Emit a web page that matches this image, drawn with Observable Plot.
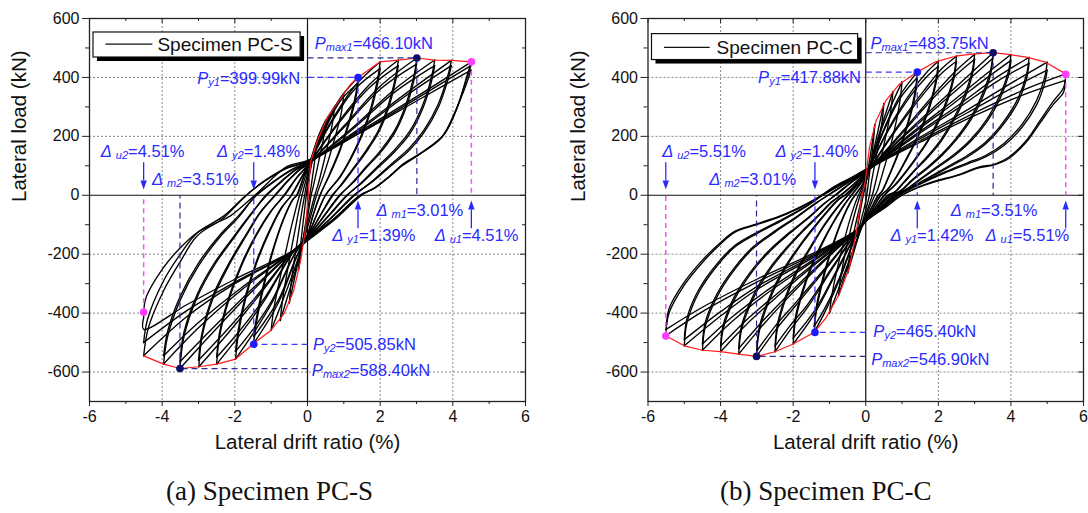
<!DOCTYPE html>
<html><head><meta charset="utf-8">
<script src="https://cdn.jsdelivr.net/npm/d3@7"></script>
<script src="https://cdn.jsdelivr.net/npm/@observablehq/plot@0.6"></script>
<style>
body{margin:0;background:#fff;}
#wrap{display:flex;width:1088px;height:513px;overflow:hidden;}
#wrap svg{flex:0 0 auto;}
</style></head><body><div id="wrap"></div>
<script>
// ---------- axis ticks ----------
const xTicks = [-6,-4,-2,0,2,4,6];
const xMinor = [-5,-3,-1,1,3,5];
const yTicks = [-600,-400,-200,0,200,400,600];
const yMinor = [-500,-300,-100,100,300,500];
const xGrid = [-4,-2,2,4];
const yGrid = [-600,-400,-200,200,400];

// ---------- Specimen PC-S hysteresis branches [drift %, load kN] ----------
const pcsLevel45 = [
 [[-4.51,-545],[-4.38,-450],[-3.96,-324],[-3.5,-225],[-3.04,-138],[-2.3,-76],[-1.75,-8],[-1.2,48],[-0.56,94],[0,116],[1.5,222],[3.0,335],[4.51,453]],
 [[4.51,453],[4.40,410],[4.12,297],[3.76,207],[3.2,150],[2.63,106],[2.34,72],[1.87,27],[1.49,0],[0.72,-86],[0,-154],[-0.4,-192],[-2.0,-300],[-3.3,-410],[-4.51,-545]],
 [[-4.51,-500],[-4.4,-420],[-3.96,-290],[-3.5,-200],[-3.04,-128],[-2.3,-70],[-1.72,-3],[-1.2,46],[-0.56,92],[0,113],[1.5,217],[3.0,328],[4.5,440]],
 [[4.5,440],[4.38,395],[4.08,287],[3.72,200],[3.15,145],[2.6,100],[2.3,68],[1.85,25],[1.46,0],[0.7,-84],[0,-150],[-0.4,-190],[-2.0,-295],[-3.3,-390],[-4.51,-500]],
 [[-4.51,-415],[-4.45,-350],[-3.96,-245],[-3.5,-178],[-3.04,-127],[-2.58,-98],[-2.12,-70],[-1.45,0],[-0.56,98],[0,118],[1.5,215],[3.0,320],[4.5,425]],
 [[4.5,425],[4.38,380],[4.05,280],[3.68,195],[3.1,140],[2.55,97],[2.25,64],[1.82,22],[1.44,0],[0.7,-82],[0,-148],[-0.4,-188],[-2.0,-285],[-3.3,-370],[-4.51,-455],[-4.51,-415]]
];
const pcsLevel40 = [
 [[-3.96,-573],[-3.85,-480],[-3.5,-355],[-3.0,-240],[-2.4,-140],[-1.9,-75],[-1.45,-5],[-0.9,50],[-0.4,90],[0,112],[1.3,215],[2.7,345],[3.96,458]],
 [[3.96,458],[3.86,405],[3.6,310],[3.2,220],[2.8,160],[2.3,105],[1.8,50],[1.3,0],[0.65,-78],[0,-150],[-0.4,-190],[-1.8,-320],[-3.0,-450],[-3.96,-573]],
 [[-3.96,-545],[-3.85,-462],[-3.5,-342],[-3.0,-230],[-2.4,-133],[-1.9,-70],[-1.42,-2],[-0.9,48],[-0.4,88],[0,110],[1.3,210],[2.7,337],[3.96,440]],
 [[3.96,440],[3.86,390],[3.6,298],[3.2,212],[2.8,153],[2.3,100],[1.8,47],[1.27,0],[0.65,-76],[0,-148],[-0.4,-189],[-1.8,-312],[-3.0,-432],[-3.96,-545]]
];
const pcsLevel35 = [
 [[-3.51,-588],[-3.4,-480],[-3.05,-350],[-2.55,-235],[-2.0,-140],[-1.55,-65],[-1.15,0],[-0.7,50],[-0.3,90],[0,108],[1.2,225],[2.4,360],[3.5,459]],
 [[3.5,459],[3.4,395],[3.15,300],[2.8,215],[2.4,155],[1.95,100],[1.5,45],[1.1,0],[0.55,-75],[0,-148],[-0.4,-190],[-1.6,-335],[-2.6,-465],[-3.51,-588]],
 [[-3.51,-565],[-3.4,-465],[-3.05,-340],[-2.55,-228],[-2.0,-135],[-1.55,-62],[-1.12,0],[-0.7,48],[-0.3,88],[0,106],[1.2,220],[2.4,350],[3.5,440]],
 [[3.5,440],[3.4,380],[3.15,288],[2.8,206],[2.4,148],[1.95,95],[1.5,42],[1.08,0],[0.55,-73],[0,-146],[-0.4,-189],[-1.6,-327],[-2.6,-450],[-3.51,-565]]
];
const pcsLevel30 = [
 [[-2.99,-582],[-2.9,-480],[-2.6,-350],[-2.15,-235],[-1.7,-140],[-1.3,-60],[-0.9,0],[-0.5,55],[-0.2,90],[0,105],[1.0,235],[2.0,370],[3.01,466]],
 [[3.01,466],[2.92,400],[2.7,305],[2.4,220],[2.0,150],[1.6,95],[1.25,45],[0.9,0],[0.45,-72],[0,-145],[-0.4,-192],[-1.4,-350],[-2.2,-470],[-2.99,-582]],
 [[-3.0,-560],[-2.9,-465],[-2.6,-340],[-2.15,-228],[-1.7,-135],[-1.3,-57],[-0.88,0],[-0.5,53],[-0.2,88],[0,103],[1.0,230],[2.0,360],[3.0,445]],
 [[3.0,445],[2.92,385],[2.7,293],[2.4,212],[2.0,144],[1.6,91],[1.25,42],[0.88,0],[0.45,-70],[0,-143],[-0.4,-190],[-1.4,-342],[-2.2,-455],[-3.0,-560]]
];
const pcsLevel25 = [
 [[-2.5,-573],[-2.42,-480],[-2.15,-350],[-1.8,-235],[-1.4,-135],[-1.0,-55],[-0.65,0],[-0.3,60],[0,102],[0.8,240],[1.7,375],[2.5,459]],
 [[2.5,459],[2.42,400],[2.22,305],[1.95,220],[1.6,150],[1.25,90],[0.95,40],[0.7,0],[0.35,-70],[0,-142],[-0.4,-195],[-1.2,-360],[-1.9,-480],[-2.5,-573]],
 [[-2.5,-550],[-2.42,-465],[-2.15,-340],[-1.8,-228],[-1.4,-130],[-1.0,-52],[-0.63,0],[-0.3,58],[0,100],[0.8,235],[1.7,365],[2.5,440]],
 [[2.5,440],[2.42,385],[2.22,293],[1.95,212],[1.6,144],[1.25,86],[0.95,37],[0.68,0],[0.35,-68],[0,-140],[-0.4,-193],[-1.2,-352],[-1.9,-465],[-2.5,-550]]
];
const pcsLevel20 = [
 [[-1.98,-556],[-1.9,-470],[-1.7,-350],[-1.4,-230],[-1.05,-125],[-0.72,-45],[-0.45,0],[-0.15,65],[0,100],[0.6,240],[1.3,370],[2.0,453]],
 [[2.0,453],[1.93,395],[1.75,300],[1.5,210],[1.2,130],[0.9,65],[0.5,0],[0.25,-68],[0,-140],[-0.35,-200],[-1.0,-370],[-1.5,-470],[-1.98,-556]],
 [[-1.98,-530],[-1.9,-452],[-1.7,-338],[-1.4,-222],[-1.05,-120],[-0.72,-42],[-0.44,0],[-0.15,63],[0,98],[0.6,235],[1.3,360],[2.0,430]],
 [[2.0,430],[1.93,378],[1.75,288],[1.5,202],[1.2,125],[0.9,62],[0.49,0],[0.25,-66],[0,-138],[-0.35,-198],[-1.0,-362],[-1.5,-455],[-1.98,-530]]
];
const pcsLevel15 = [
 [[-1.48,-503],[-1.4,-430],[-1.22,-320],[-0.95,-190],[-0.65,-80],[-0.4,-15],[-0.3,0],[-0.1,65],[0,95],[0.45,220],[0.9,330],[1.39,400]],
 [[1.39,400],[1.33,345],[1.15,255],[0.9,160],[0.6,70],[0.35,0],[0.15,-70],[0,-135],[-0.3,-210],[-0.8,-365],[-1.48,-503]],
 [[-1.48,-480],[-1.4,-412],[-1.22,-308],[-0.95,-183],[-0.65,-76],[-0.4,-13],[-0.29,0],[-0.1,63],[0,93],[0.45,215],[0.9,320],[1.39,380]],
 [[1.39,380],[1.33,330],[1.15,245],[0.9,153],[0.6,66],[0.34,0],[0.15,-68],[0,-133],[-0.3,-207],[-0.8,-355],[-1.48,-480]]
];
const pcsSmall = [
 [[-1.0,-458],[-0.92,-380],[-0.7,-250],[-0.45,-110],[-0.22,0],[0,85],[0.4,230],[1.0,345]],
 [[1.0,345],[0.93,280],[0.72,180],[0.45,70],[0.25,0],[0,-110],[-0.3,-230],[-1.0,-458]],
 [[-0.75,-425],[-0.68,-350],[-0.5,-220],[-0.3,-90],[-0.15,0],[0,70],[0.35,200],[0.75,302]],
 [[0.75,302],[0.68,240],[0.5,140],[0.3,40],[0.2,0],[0,-95],[-0.3,-240],[-0.75,-425]],
 [[-0.5,-365],[-0.44,-290],[-0.3,-170],[-0.15,-50],[-0.08,0],[0,55],[0.25,170],[0.5,255]],
 [[0.5,255],[0.45,200],[0.3,110],[0.15,25],[0.1,0],[0,-75],[-0.25,-220],[-0.5,-365]],
 [[-0.25,-255],[-0.2,-180],[-0.1,-70],[0,30],[0.12,110],[0.25,178]],
 [[0.25,178],[0.2,120],[0.1,30],[0,-50],[-0.12,-150],[-0.25,-255]]
];
const pcsEnvelope = [[-4.51,-545],[-3.96,-573],[-3.51,-588],[-2.99,-582],[-2.5,-573],[-1.98,-556],[-1.48,-503],[-1.02,-460],[-0.65,-403],[-0.38,-324],[-0.19,-223],[-0.05,-110],[0.02,0],[0.09,116],[0.27,184],[0.54,263],[0.86,320],[1.18,376],[1.39,400],[2.0,453],[2.5,459],[3.01,466],[3.5,459],[3.96,458],[4.51,453]];
// characteristic points: [drift, load, kind]
const pcsPoints = [[1.39,399.99,"y"],[3.01,466.10,"max"],[4.51,453,"u"],[-1.48,-505.85,"y"],[-3.51,-588.40,"max"],[-4.51,-397,"u"]];
const pcsTexts = ["P|y1|=399.99kN","P|max1|=466.10kN","Δ |y1|=1.39%","Δ |m1|=3.01%","Δ |u1|=4.51%","P|y2|=505.85kN","P|max2|=588.40kN","Δ |y2|=1.48%","Δ |m2|=3.51%","Δ |u2|=4.51%"];

// ---------- Specimen PC-C hysteresis branches ----------
const pccLevel55 = [
 [[-5.51,-477],[-5.42,-400],[-5.0,-305],[-4.5,-228],[-4.0,-165],[-3.6,-125],[-3.0,-100],[-2.2,-65],[-1.4,-15],[-0.9,27],[-0.4,60],[0,88],[1.5,185],[3.0,280],[4.5,365],[5.51,412]],
 [[5.51,412],[5.45,365],[5.18,321],[4.8,253],[4.42,185],[3.94,129],[3.56,106],[3.09,95],[2.61,72],[1.66,38],[1.0,0],[0.5,-45],[0,-88],[-0.25,-120],[-1.5,-205],[-3.0,-295],[-4.5,-395],[-5.51,-477]],
 [[-5.5,-455],[-5.42,-385],[-5.0,-295],[-4.5,-220],[-4.0,-160],[-3.6,-122],[-3.0,-97],[-2.2,-62],[-1.38,-12],[-0.9,25],[-0.4,58],[0,86],[1.5,180],[3.0,270],[4.5,348],[5.5,390]],
 [[5.5,390],[5.45,350],[5.18,310],[4.8,245],[4.42,180],[3.94,125],[3.56,104],[3.09,92],[2.61,70],[1.66,36],[0.98,0],[0.5,-44],[0,-86],[-0.25,-118],[-1.5,-200],[-3.0,-285],[-4.5,-380],[-5.5,-455]]
];
const pccLevel50 = [
 [[-5.0,-511],[-4.92,-430],[-4.6,-330],[-4.1,-240],[-3.6,-175],[-3.0,-130],[-2.3,-85],[-1.6,-35],[-1.2,0],[-0.5,50],[0,85],[1.4,190],[2.8,290],[4.0,380],[5.0,452]],
 [[5.0,452],[4.93,400],[4.7,320],[4.3,240],[3.8,175],[3.3,135],[2.8,110],[2.2,80],[1.5,40],[0.92,0],[0.45,-45],[0,-88],[-0.25,-120],[-1.5,-215],[-3.0,-320],[-4.0,-410],[-5.0,-511]],
 [[-5.0,-490],[-4.92,-415],[-4.6,-320],[-4.1,-233],[-3.6,-170],[-3.0,-126],[-2.3,-82],[-1.6,-33],[-1.18,0],[-0.5,48],[0,83],[1.4,185],[2.8,280],[4.0,362],[5.0,425]],
 [[5.0,425],[4.93,380],[4.7,305],[4.3,230],[3.8,168],[3.3,130],[2.8,106],[2.2,77],[1.5,38],[0.9,0],[0.45,-44],[0,-86],[-0.25,-118],[-1.5,-210],[-3.0,-310],[-4.0,-395],[-5.0,-490]]
];
const pccLevel45 = [
 [[-4.5,-526],[-4.42,-445],[-4.1,-345],[-3.6,-250],[-3.1,-180],[-2.5,-125],[-1.9,-75],[-1.4,-30],[-1.05,0],[-0.45,48],[0,83],[1.3,200],[2.6,310],[3.6,400],[4.5,468]],
 [[4.5,468],[4.43,410],[4.2,330],[3.8,250],[3.3,180],[2.8,135],[2.3,100],[1.8,65],[1.3,30],[0.85,0],[0.4,-45],[0,-88],[-0.25,-120],[-1.4,-220],[-2.8,-340],[-3.7,-430],[-4.5,-526]],
 [[-4.5,-505],[-4.42,-430],[-4.1,-335],[-3.6,-243],[-3.1,-175],[-2.5,-121],[-1.9,-72],[-1.4,-28],[-1.03,0],[-0.45,46],[0,81],[1.3,195],[2.6,300],[3.6,385],[4.5,448]],
 [[4.5,448],[4.43,395],[4.2,318],[3.8,242],[3.3,174],[2.8,130],[2.3,96],[1.8,62],[1.3,28],[0.83,0],[0.4,-44],[0,-86],[-0.25,-118],[-1.4,-215],[-2.8,-330],[-3.7,-415],[-4.5,-505]]
];
const pccLevel40 = [
 [[-4.0,-531],[-3.92,-450],[-3.6,-350],[-3.1,-255],[-2.6,-185],[-2.1,-130],[-1.6,-80],[-1.15,-30],[-0.85,0],[-0.4,45],[0,80],[1.2,205],[2.4,320],[3.3,410],[4.0,478]],
 [[4.0,478],[3.93,420],[3.7,340],[3.35,260],[2.9,190],[2.45,140],[2.0,100],[1.55,60],[1.1,20],[0.78,0],[0.38,-45],[0,-88],[-0.25,-120],[-1.3,-225],[-2.5,-350],[-3.3,-440],[-4.0,-531]],
 [[-4.0,-512],[-3.92,-437],[-3.6,-340],[-3.1,-248],[-2.6,-180],[-2.1,-126],[-1.6,-77],[-1.15,-28],[-0.83,0],[-0.4,43],[0,78],[1.2,200],[2.4,310],[3.3,395],[4.0,458]],
 [[4.0,458],[3.93,405],[3.7,328],[3.35,252],[2.9,184],[2.45,135],[2.0,96],[1.55,57],[1.1,18],[0.76,0],[0.38,-44],[0,-86],[-0.25,-118],[-1.3,-220],[-2.5,-340],[-3.3,-425],[-4.0,-512]]
];
const pccLevel35 = [
 [[-3.5,-539],[-3.42,-455],[-3.1,-350],[-2.65,-255],[-2.2,-185],[-1.75,-125],[-1.3,-70],[-0.95,-25],[-0.7,0],[-0.3,42],[0,78],[1.1,210],[2.2,335],[2.95,420],[3.51,484]],
 [[3.51,484],[3.44,425],[3.22,345],[2.9,265],[2.5,195],[2.1,140],[1.7,95],[1.3,55],[0.95,15],[0.7,0],[0.33,-45],[0,-88],[-0.25,-120],[-1.2,-230],[-2.2,-355],[-2.9,-450],[-3.5,-539]],
 [[-3.5,-520],[-3.42,-442],[-3.1,-340],[-2.65,-248],[-2.2,-180],[-1.75,-121],[-1.3,-67],[-0.95,-23],[-0.68,0],[-0.3,40],[0,76],[1.1,205],[2.2,325],[2.95,405],[3.5,465]],
 [[3.5,465],[3.44,410],[3.22,333],[2.9,257],[2.5,189],[2.1,135],[1.7,91],[1.3,52],[0.95,13],[0.68,0],[0.33,-44],[0,-86],[-0.25,-118],[-1.2,-225],[-2.2,-345],[-2.9,-435],[-3.5,-520]]
];
const pccLevel30 = [
 [[-3.01,-547],[-2.93,-460],[-2.65,-355],[-2.25,-255],[-1.85,-180],[-1.45,-115],[-1.05,-55],[-0.75,-15],[-0.58,0],[-0.25,40],[0,75],[1.0,215],[1.9,345],[2.55,430],[3.0,479]],
 [[3.0,479],[2.93,420],[2.72,340],[2.42,260],[2.08,190],[1.72,135],[1.38,90],[1.05,45],[0.8,12],[0.62,0],[0.3,-45],[0,-88],[-0.25,-120],[-1.0,-235],[-1.9,-370],[-2.5,-460],[-3.01,-547]],
 [[-3.0,-528],[-2.93,-446],[-2.65,-345],[-2.25,-248],[-1.85,-175],[-1.45,-111],[-1.05,-52],[-0.75,-13],[-0.57,0],[-0.25,38],[0,73],[1.0,210],[1.9,335],[2.55,415],[3.0,462]],
 [[3.0,462],[2.93,405],[2.72,328],[2.42,252],[2.08,184],[1.72,130],[1.38,87],[1.05,42],[0.8,10],[0.6,0],[0.3,-44],[0,-86],[-0.25,-118],[-1.0,-230],[-1.9,-360],[-2.5,-445],[-3.0,-528]]
];
const pccLevel25 = [
 [[-2.5,-531],[-2.43,-450],[-2.2,-350],[-1.85,-250],[-1.5,-175],[-1.15,-105],[-0.8,-45],[-0.5,0],[-0.2,40],[0,72],[0.8,220],[1.6,355],[2.1,430],[2.5,472]],
 [[2.5,472],[2.43,410],[2.25,330],[2.0,255],[1.7,185],[1.4,130],[1.1,80],[0.8,35],[0.52,0],[0.25,-45],[0,-88],[-0.25,-125],[-0.9,-245],[-1.6,-380],[-2.1,-460],[-2.5,-531]],
 [[-2.5,-512],[-2.43,-436],[-2.2,-340],[-1.85,-243],[-1.5,-170],[-1.15,-101],[-0.8,-43],[-0.49,0],[-0.2,38],[0,70],[0.8,215],[1.6,345],[2.1,415],[2.5,455]],
 [[2.5,455],[2.43,396],[2.25,320],[2.0,247],[1.7,180],[1.4,126],[1.1,77],[0.8,33],[0.5,0],[0.25,-44],[0,-86],[-0.25,-123],[-0.9,-240],[-1.6,-370],[-2.1,-445],[-2.5,-512]]
];
const pccLevel20 = [
 [[-2.0,-505],[-1.94,-430],[-1.75,-335],[-1.48,-240],[-1.2,-165],[-0.9,-95],[-0.6,-35],[-0.4,0],[-0.15,40],[0,70],[0.6,220],[1.25,350],[1.7,420],[2.0,455]],
 [[2.0,455],[1.94,395],[1.78,315],[1.58,245],[1.35,180],[1.1,120],[0.85,65],[0.6,20],[0.42,0],[0.2,-45],[0,-88],[-0.25,-130],[-0.8,-260],[-1.4,-400],[-2.0,-505]],
 [[-2.0,-485],[-1.94,-415],[-1.75,-325],[-1.48,-233],[-1.2,-160],[-0.9,-92],[-0.6,-33],[-0.39,0],[-0.15,38],[0,68],[0.6,215],[1.25,340],[1.7,405],[2.0,438]],
 [[2.0,438],[1.94,382],[1.78,305],[1.58,238],[1.35,175],[1.1,116],[0.85,62],[0.6,18],[0.41,0],[0.2,-44],[0,-86],[-0.25,-128],[-0.8,-255],[-1.4,-390],[-2.0,-485]]
];
const pccLevel15 = [
 [[-1.42,-465],[-1.37,-400],[-1.24,-320],[-1.05,-230],[-0.82,-140],[-0.6,-70],[-0.4,-20],[-0.3,0],[-0.1,35],[0,65],[0.45,210],[0.95,340],[1.42,418]],
 [[1.42,418],[1.37,360],[1.25,290],[1.08,215],[0.88,140],[0.65,70],[0.45,15],[0.35,0],[0.15,-45],[0,-85],[-0.25,-135],[-0.7,-280],[-1.1,-390],[-1.42,-465]],
 [[-1.42,-445],[-1.37,-385],[-1.24,-308],[-1.05,-222],[-0.82,-135],[-0.6,-67],[-0.4,-18],[-0.29,0],[-0.1,33],[0,63],[0.45,205],[0.95,330],[1.42,400]],
 [[1.42,400],[1.37,345],[1.25,278],[1.08,207],[0.88,135],[0.65,67],[0.45,13],[0.34,0],[0.15,-44],[0,-83],[-0.25,-132],[-0.7,-272],[-1.1,-377],[-1.42,-445]]
];
const pccSmall = [
 [[-1.0,-400],[-0.92,-330],[-0.75,-230],[-0.5,-110],[-0.3,-30],[-0.2,0],[0,55],[0.45,230],[1.0,385]],
 [[1.0,385],[0.93,310],[0.75,200],[0.5,90],[0.3,10],[0.25,0],[0,-75],[-0.3,-170],[-1.0,-400]],
 [[-0.75,-340],[-0.68,-270],[-0.5,-160],[-0.3,-60],[-0.15,0],[0,45],[0.35,200],[0.75,352]],
 [[0.75,352],[0.68,280],[0.5,170],[0.3,60],[0.18,0],[0,-65],[-0.3,-170],[-0.75,-340]],
 [[-0.5,-265],[-0.44,-200],[-0.3,-110],[-0.15,-30],[-0.1,0],[0,40],[0.25,170],[0.5,312]],
 [[0.5,312],[0.45,250],[0.3,140],[0.15,40],[0.1,0],[0,-50],[-0.25,-160],[-0.5,-265]],
 [[-0.25,-140],[-0.2,-90],[-0.1,-20],[0,40],[0.12,130],[0.25,240]],
 [[0.25,240],[0.2,170],[0.1,70],[0,-20],[-0.12,-80],[-0.25,-140]]
];
const pccEnvelope = [[-5.51,-477],[-5.0,-511],[-4.5,-526],[-4.0,-531],[-3.5,-539],[-3.01,-547],[-2.5,-531],[-2.0,-505],[-1.42,-465],[-1.09,-415],[-0.73,-336],[-0.45,-245],[-0.27,-132],[-0.13,-19],[-0.01,48],[0.1,161],[0.28,251],[0.55,320],[0.92,376],[1.42,418],[1.92,453],[2.47,472],[2.93,479],[3.51,484],[3.93,478],[4.43,469],[4.93,453],[5.51,412]];
const pccPoints = [[1.42,417.88,"y"],[3.51,483.75,"max"],[5.51,411,"u"],[-1.40,-465.40,"y"],[-3.01,-546.90,"max"],[-5.51,-478,"u"]];
const pccTexts = ["P|y1|=417.88kN","P|max1|=483.75kN","Δ |y1|=1.42%","Δ |m1|=3.51%","Δ |u1|=5.51%","P|y2|=465.40kN","P|max2|=546.90kN","Δ |y2|=1.40%","Δ |m2|=3.01%","Δ |u2|=5.51%"];

// ---------- drawing ----------
const BLUE = "#2a2aff", MAG = "#ff3cff";
const kindColor = {y: "#1c1cff", max: "#0d0d68", u: MAG};
const kindDash = {y: "#3a3aff", max: "#2a2a90", u: "#ff4cff"};
const headUp = {draw(ctx){ctx.moveTo(0,-9);ctx.lineTo(3.2,0);ctx.lineTo(-3.2,0);ctx.closePath();}};
const headDown = {draw(ctx){ctx.moveTo(0,9);ctx.lineTo(3.2,0);ctx.lineTo(-3.2,0);ctx.closePath();}};

function panel(cfg) {
  const rows = [];
  cfg.levels.forEach((lvl, li) => lvl.forEach((br, bi) => br.forEach(([x, y]) => rows.push({x, y, id: li + "-" + bi}))));
  const env = cfg.envelope.map(([x, y]) => ({x, y}));
  const pts = cfg.points.map(([x, y, k]) => ({x, y, k}));
  const dashes = [];
  pts.forEach(p => {
    dashes.push({x1: p.x, y1: p.y, x2: p.x, y2: 0, k: p.k});
    if (p.k !== "u") dashes.push({x1: 0, y1: p.y, x2: p.x, y2: p.y, k: p.k});
  });
  const T = cfg.texts, L = cfg.lab;
  const labStart = [1,2,3,4,5,6,7,8,9].map(i => ({x: L[i][0], y: L[i][1], t: T[i]}));
  const labEnd = [{x: L[0][0], y: L[0][1], t: T[0]}];
  const arrowsUp = cfg.arrowUpX.map(x => ({x}));
  const arrowsDown = cfg.arrowDownX.map(x => ({x}));
  const fw = 544 - cfg.ml - cfg.mr, fh = 513 - 18 - 112;
  const lg = cfg.legend;
  const svg = Plot.plot({
    width: 544, height: 513,
    marginLeft: cfg.ml, marginRight: cfg.mr, marginTop: 18, marginBottom: 112,
    x: {domain: [-6, 6]}, y: {domain: [-700, 600]},
    style: {fontFamily: "'Liberation Sans', Arial, sans-serif", fontSize: "16px", background: "white", color: "#111"},
    marks: [
      Plot.gridX(xGrid, {stroke: "#7a7a7a", strokeOpacity: 1, strokeDasharray: "2,2", strokeWidth: 0.9}),
      Plot.gridY(yGrid, {stroke: "#7a7a7a", strokeOpacity: 1, strokeDasharray: "2,2", strokeWidth: 0.9}),
      Plot.ruleX([0], {stroke: "#111", strokeWidth: 1.2}),
      Plot.ruleY([0], {stroke: "#111", strokeWidth: 1.2}),
      Plot.line(rows, {x: "x", y: "y", z: "id", curve: "catmull-rom", stroke: "#000", strokeWidth: 1.35}),
      Plot.line(env, {x: "x", y: "y", stroke: "#ff1a1a", strokeWidth: 1.2}),
      Plot.link(dashes.filter(d => d.k === "u"), {x1: "x1", y1: "y1", x2: "x2", y2: "y2", stroke: kindDash.u, strokeWidth: 1.5, strokeDasharray: "5,4"}),
      Plot.link(dashes.filter(d => d.k === "y"), {x1: "x1", y1: "y1", x2: "x2", y2: "y2", stroke: kindDash.y, strokeWidth: 1.3, strokeDasharray: "6,4"}),
      Plot.link(dashes.filter(d => d.k === "max"), {x1: "x1", y1: "y1", x2: "x2", y2: "y2", stroke: kindDash.max, strokeWidth: 1.2, strokeDasharray: "6,4"}),
      Plot.dot(pts, {x: "x", y: "y", r: 3.8, fill: d => kindColor[d.k], stroke: "none"}),
      Plot.link(arrowsUp, {x1: "x", x2: "x", y1: -112, y2: -48, stroke: BLUE, strokeWidth: 1.3}),
      Plot.dot(arrowsUp, {x: "x", y: -48, symbol: headUp, fill: BLUE, stroke: "none", r: 4}),
      Plot.link(arrowsDown, {x1: "x", x2: "x", y1: 112, y2: 50, stroke: BLUE, strokeWidth: 1.3}),
      Plot.dot(arrowsDown, {x: "x", y: 50, symbol: headDown, fill: BLUE, stroke: "none", r: 4}),
      Plot.text(labStart, {x: "x", y: "y", text: "t", textAnchor: "start", fill: BLUE, fontSize: 16.5}),
      Plot.text(labEnd, {x: "x", y: "y", text: "t", textAnchor: "end", fill: BLUE, fontSize: 16.5}),
      // legend
      Plot.rect([0], {x1: () => lg.x1, x2: () => lg.x2, y1: () => lg.y1, y2: () => lg.y2, fill: "#000", dx: 4, dy: 4}),
      Plot.rect([0], {x1: () => lg.x1, x2: () => lg.x2, y1: () => lg.y1, y2: () => lg.y2, fill: "white", stroke: "#111", strokeWidth: 1.2}),
      Plot.link([0], {x1: () => lg.lx1, x2: () => lg.lx2, y1: () => lg.ly, y2: () => lg.ly, stroke: "#111", strokeWidth: 1.2}),
      Plot.text([cfg.name], {x: () => lg.tx, y: () => lg.ty, text: d => d, textAnchor: "start", fontSize: 19, fill: "#111"}),
      // frame, ticks, axes
      Plot.frame({stroke: "#222", strokeWidth: 1.3}),
      Plot.tickX(xTicks, {x: d => d, insetBottom: fh - 5, stroke: "#222"}),
      Plot.tickX(xMinor, {x: d => d, insetBottom: fh - 3, stroke: "#222"}),
      Plot.tickY(yTicks, {y: d => d, insetLeft: fw - 5, stroke: "#222"}),
      Plot.tickY(yMinor, {y: d => d, insetLeft: fw - 3, stroke: "#222"}),
      Plot.axisX(xTicks, {tickSize: 5, tickPadding: 4, tickFormat: d => String(d), label: null, stroke: "#222"}),
      Plot.axisX(xMinor, {tickSize: 3, tickFormat: () => "", label: null, stroke: "#222"}),
      Plot.axisY(yTicks, {tickSize: 7, tickPadding: 3, tickFormat: d => String(d), label: null, stroke: "#222"}),
      Plot.axisY(yMinor, {tickSize: 4, tickFormat: () => "", label: null, stroke: "#222"}),
      Plot.text(["Lateral drift ratio (%)"], {frameAnchor: "bottom", dy: 47, text: d => d, fontSize: 20.5, fill: "#111"}),
      Plot.text(["Lateral load (kN)"], {frameAnchor: "left", rotate: -90, dx: -70, dy: -8, text: d => d, fontSize: 20.5, fill: "#111"}),
      Plot.text([cfg.caption], {frameAnchor: "bottom", dy: 98, dx: cfg.capDx, text: d => d, fontSize: 27, fill: "#111", fontFamily: "'Liberation Serif', 'Times New Roman', serif"})
    ]
  });
  // italic symbol + small italic subscript
  d3.select(svg).selectAll("text").each(function() {
    const s = this.textContent;
    if (!s.includes("|")) return;
    const [a, b, c] = s.split("|");
    const el = d3.select(this);
    el.text(null);
    el.append("tspan").attr("font-style", "italic").text(a);
    el.append("tspan").attr("font-style", "italic").attr("font-size", 11).attr("dy", 2).text(b);
    el.append("tspan").attr("dy", -2).text(c);
  });
  return svg;
}

const wrap = document.getElementById("wrap");
wrap.appendChild(panel({
  name: "Specimen PC-S", caption: "(a) Specimen PC-S", capDx: -38,
  ml: 89, mr: 19,
  levels: [pcsLevel45, pcsLevel40, pcsLevel35, pcsLevel30, pcsLevel25, pcsLevel20, pcsLevel15, pcsSmall],
  envelope: pcsEnvelope, points: pcsPoints, texts: pcsTexts,
  lab: [[-0.2,394],[0.2,516],[0.68,-137],[1.9,-54],[3.5,-137],[0.15,-507],[0.12,-597],[-2.49,148],[-4.28,53],[-5.69,148]],
  arrowUpX: [1.39, 4.51], arrowDownX: [-1.48, -4.51],
  legend: {x1: -5.89, x2: -0.19, y1: 467.6, y2: 552.5, lx1: -5.56, lx2: -4.27, ly: 513, tx: -4.13, ty: 510}
}));
wrap.appendChild(panel({
  name: "Specimen PC-C", caption: "(b) Specimen PC-C", capDx: -40,
  ml: 103.5, mr: 5,
  levels: [pccLevel55, pccLevel50, pccLevel45, pccLevel40, pccLevel35, pccLevel30, pccLevel25, pccLevel20, pccLevel15, pccSmall],
  envelope: pccEnvelope, points: pccPoints, texts: pccTexts,
  lab: [[-0.13,400],[0.13,516],[0.68,-137],[2.34,-54],[3.30,-137],[0.21,-464],[0.15,-558],[-2.49,148],[-4.31,53],[-5.61,148]],
  arrowUpX: [1.42, 5.51], arrowDownX: [-1.40, -5.51],
  legend: {x1: -5.89, x2: -0.21, y1: 459, y2: 547, lx1: -5.56, lx2: -4.30, ly: 502, tx: -4.11, ty: 500}
}));
</script></body></html>
